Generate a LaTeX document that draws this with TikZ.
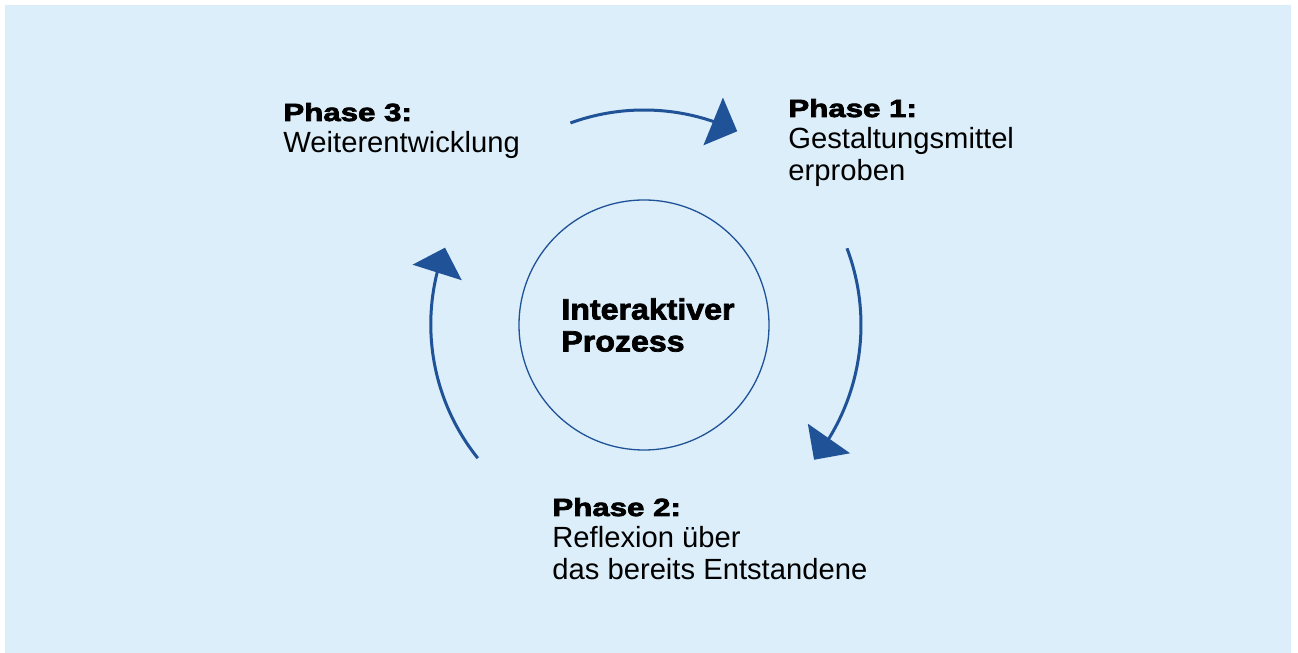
\documentclass[tikz,border=0pt]{standalone}
\usepackage{fontspec}
\setmainfont{Liberation Sans}
\newfontfamily\heavyfont[FakeStretch=1.26,FakeBold=3]{Liberation Sans}
\newfontfamily\centerfont[FakeStretch=1.1,FakeBold=2.5]{Liberation Sans}
\usetikzlibrary{arrows.meta,bending}
\definecolor{bgblue}{HTML}{DBEEF9}
\definecolor{cycleblue}{HTML}{1F5297}
\tikzset{
  phase/.style={anchor=base west,inner sep=0pt,align=left,
    font=\fontsize{14.6pt}{16pt}\selectfont},
  flow/.style={draw=cycleblue,line width=1.5pt,
    -{Triangle[length=13pt,width=25.5pt,flex]}},
}
\begin{document}
\begin{tikzpicture}[x=0.5pt,y=0.5pt]
        \useasboundingbox (0,0) rectangle (1298,653);
        \fill[bgblue] (5,0) rectangle (1291,648);

        \node[draw=cycleblue,line width=0.65pt,circle,minimum size=125pt,inner sep=0pt,
              align=left,font=\fontsize{14.6pt}{16pt}\centerfont\bfseries]
              (proc) at (644,328) {\hspace*{4pt}Interaktiver\\\hspace*{4pt}Prozess};

        % base anchor sits on the last line
        \node[phase] (ph1) at (788,472) {{\heavyfont\fontsize{12.4pt}{16pt}\selectfont\bfseries Phase 1:}\\Gestaltungsmittel\\erproben};
        \node[phase] (ph2) at (552,73) {{\heavyfont\fontsize{12.4pt}{16pt}\selectfont\bfseries Phase 2:}\\Reflexion über\\das bereits Entstandene};
        \node[phase] (ph3) at (283,500) {{\heavyfont\fontsize{12.4pt}{16pt}\selectfont\bfseries Phase 3:}\\Weiterentwicklung};

        % arcs around the circle
        \draw[flow] (proc.center) ++(110:215) arc[start angle=110,end angle=64.3,radius=107.5pt];
        \draw[flow] (proc.center) ++(20.7:217) arc[start angle=20.7,end angle=-38.4,radius=108.5pt];
        \draw[flow] (proc.center) ++(218.7:213) arc[start angle=218.7,end angle=159,radius=107pt];
\end{tikzpicture}
\end{document}
